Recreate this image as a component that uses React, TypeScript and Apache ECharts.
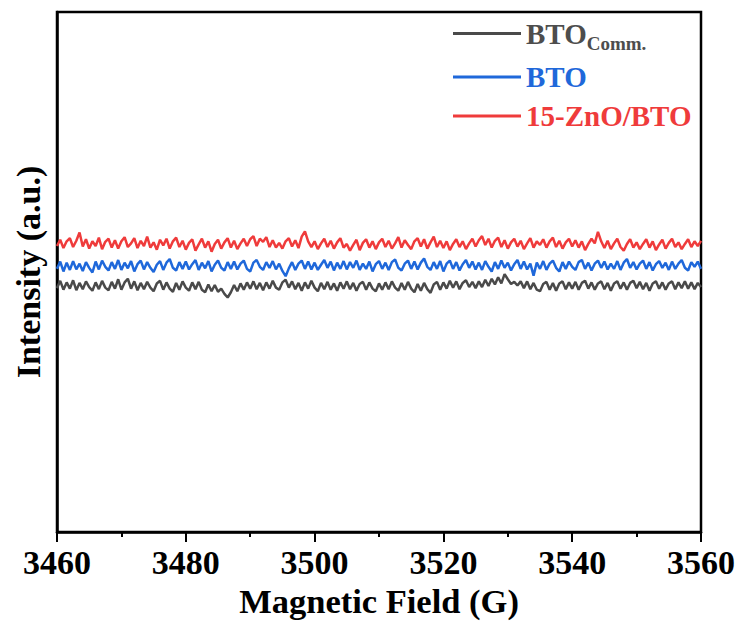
import React, { useEffect, useRef } from "react";
import * as echarts from "echarts";

const X_START = 3460;
const X_STEP = 0.5;
const X_TICKS = [3460, 3480, 3500, 3520, 3540, 3560];
const SERIES_NAMES = ["BTOComm.", "BTO", "15-ZnO/BTO"];
const COLORS = ["#4a4a4a", "#1f68da", "#ef3b3b"];

const btoComm = [
  46.9,48.3,46.6,48.0,46.8,48.4,46.5,47.9,46.7,48.2,
  47.1,46.4,48.0,46.7,48.3,47.0,46.5,48.1,46.8,48.6,
  46.6,48.0,48.7,46.8,48.2,46.5,47.9,46.7,48.1,47.0,
  46.3,47.8,48.3,46.6,48.0,46.8,46.2,47.9,46.6,48.2,
  47.0,46.4,48.0,46.7,48.1,46.6,46.1,47.6,46.3,47.5,
  46.2,46.8,45.8,45.1,46.1,47.5,46.3,47.8,46.6,48.0,
  46.8,48.2,46.7,47.9,46.5,48.0,46.8,48.3,47.0,46.6,
  48.0,48.5,47.0,48.2,46.7,47.9,46.4,48.0,46.8,48.3,
  47.0,46.3,47.9,46.7,48.1,46.6,47.8,46.4,48.0,46.8,
  48.2,46.7,47.9,46.4,47.7,48.1,46.6,48.0,46.8,46.3,
  47.8,46.6,48.0,46.7,48.2,47.0,46.4,47.9,46.6,48.1,
  46.8,46.1,47.7,46.4,47.9,46.7,46.0,47.6,48.1,46.6,
  48.0,46.8,48.3,47.0,48.2,46.7,47.9,48.4,47.1,48.1,
  46.9,48.2,47.1,48.5,47.3,48.7,47.6,49.0,47.8,49.6,
  48.6,47.7,48.1,47.4,48.2,46.9,48.2,46.7,47.9,46.6,
  46.3,47.7,48.1,46.6,47.9,46.4,47.8,48.2,46.7,48.0,
  46.8,48.1,46.6,47.9,48.3,46.8,48.0,46.6,47.8,48.2,
  46.7,47.9,46.4,47.8,48.2,46.8,48.0,46.6,47.9,48.3,
  46.9,48.1,46.7,47.9,46.4,47.8,48.2,46.8,48.0,46.6,
  47.8,48.2,46.7,48.0,46.9,48.2,46.8,48.0,46.7,47.9,47.1,
];

const bto = [
  50.6,52.0,50.1,51.8,50.4,52.1,50.5,51.6,50.2,51.9,
  50.8,49.9,52.0,50.5,52.2,51.0,50.3,51.9,50.6,52.3,
  50.4,51.8,50.7,52.1,50.1,51.5,52.2,50.5,51.9,50.8,
  50.0,51.4,52.1,50.4,51.8,52.5,50.8,50.3,51.9,50.6,
  52.0,50.5,51.5,52.3,50.4,51.8,50.7,52.1,50.1,51.4,
  52.2,50.8,50.3,51.9,50.6,52.0,50.5,51.6,52.2,50.6,
  50.1,51.8,52.3,51.0,50.4,51.9,50.8,52.1,50.5,51.6,
  50.2,49.2,50.7,51.9,50.4,51.6,52.2,50.6,52.0,50.5,
  51.8,50.4,51.4,52.3,50.8,52.0,50.3,51.8,50.6,52.1,
  50.5,51.9,50.8,52.2,50.4,51.6,50.6,52.0,50.1,51.5,
  52.1,50.6,51.8,50.4,51.9,52.4,50.8,50.3,51.6,52.2,
  50.6,52.0,50.5,51.8,52.6,51.0,50.4,51.9,50.6,52.1,
  50.1,51.6,52.2,50.6,51.9,50.3,51.5,52.3,50.8,52.0,
  50.5,51.8,50.4,52.1,51.0,50.1,51.9,50.6,52.2,50.8,
  51.8,50.3,51.5,52.3,50.6,52.0,50.5,51.6,49.3,51.8,
  50.6,52.1,50.4,51.6,52.2,50.8,50.1,51.9,50.6,52.0,
  51.0,50.4,51.9,52.3,50.6,51.8,50.3,51.6,52.2,50.8,
  52.0,50.5,51.6,50.6,52.1,50.4,51.8,52.5,50.8,51.9,
  50.5,51.6,52.2,50.6,51.9,50.3,51.5,52.1,50.8,51.8,
  50.4,52.0,50.6,51.6,52.3,50.8,50.3,51.9,51.0,52.0,50.6,
];

const znoBto = [
  55.0,56.2,54.6,55.9,56.5,54.8,56.0,57.6,54.9,56.3,
  54.5,55.9,55.0,56.6,54.4,55.8,56.4,54.7,56.1,54.5,
  55.9,56.7,54.8,55.5,56.5,54.6,56.0,55.0,56.8,54.7,
  55.7,54.3,56.2,55.1,56.4,54.5,55.9,56.6,54.8,56.0,
  54.3,55.6,56.3,54.1,55.3,56.4,54.7,55.9,53.9,55.4,
  56.2,54.5,55.7,56.5,54.7,56.0,54.4,55.5,56.4,55.0,
  56.3,56.9,55.0,56.4,55.8,56.7,54.8,56.1,54.7,55.6,
  54.5,55.9,56.5,54.9,56.1,54.6,56.8,57.8,55.9,54.8,
  55.9,54.4,55.5,56.4,54.8,56.0,54.5,55.7,56.5,54.7,
  55.4,54.1,55.2,56.2,54.2,55.6,56.3,54.7,55.9,54.4,
  55.7,56.4,54.8,56.0,54.5,55.5,56.7,54.7,56.1,55.2,
  54.4,55.9,56.5,54.9,56.3,54.5,55.7,56.8,54.8,56.0,
  54.6,55.9,54.2,55.4,56.3,54.8,55.9,54.4,55.5,56.4,
  54.9,56.1,56.9,55.2,56.4,54.7,56.0,56.6,54.8,56.1,
  54.5,55.7,56.4,54.9,56.0,54.4,55.5,56.5,54.7,55.9,
  55.2,56.3,54.7,55.9,56.6,54.8,56.0,54.5,55.7,56.4,
  54.9,56.1,54.7,55.9,54.2,55.4,56.4,55.5,57.7,55.9,
  54.6,56.0,54.4,55.5,56.4,54.8,54.1,55.4,56.3,54.7,
  55.7,54.4,55.4,56.3,54.7,55.9,54.2,55.3,56.2,54.5,
  55.6,56.4,54.8,55.7,54.4,55.4,56.3,54.8,55.9,55.0,56.0,
];

const FONT = "'Times New Roman', 'Liberation Serif', serif";

function toPairs(values: number[]) {
  return values.map((v, i) => [X_START + i * X_STEP, v]);
}

export default function App() {
  const ref = useRef<HTMLDivElement>(null);
  useEffect(() => {
    if (!ref.current) return;
    const chart = echarts.init(ref.current, null, { renderer: "svg" });
    const datasets = [btoComm, bto, znoBto];
    chart.setOption({
      animation: false,
      backgroundColor: "#ffffff",
      grid: {
        left: 57,
        right: 40,
        top: 12,
        bottom: 89,
        show: true,
        borderColor: "#000",
        borderWidth: 2.5,
        containLabel: false,
        outerBoundsMode: "none",
      },
      legend: {
        orient: "vertical",
        left: 453,
        top: 19,
        padding: 0,
        itemGap: 10,
        itemWidth: 68,
        itemHeight: 3,
        icon: "rect",
        data: SERIES_NAMES,
        formatter: (name: string) => {
          if (name === "BTOComm.") return "{g|BTO}{gs|Comm.}";
          if (name === "BTO") return "{b|BTO}";
          return "{r|15-ZnO/BTO}";
        },
        textStyle: {
          fontFamily: FONT,
          fontWeight: "bold",
          rich: {
            g: { color: "#4d4d4d", fontSize: 29, fontWeight: "bold", fontFamily: FONT, lineHeight: 38 },
            gs: { color: "#4d4d4d", fontSize: 19, fontWeight: "bold", fontFamily: FONT, lineHeight: 14, verticalAlign: "bottom" },
            b: { color: COLORS[1], fontSize: 29, fontWeight: "bold", fontFamily: FONT, lineHeight: 38 },
            r: { color: COLORS[2], fontSize: 29, fontWeight: "bold", fontFamily: FONT, lineHeight: 38 },
          },
        },
      },
      xAxis: {
        type: "value",
        min: 3460,
        max: 3560,
        interval: 20,
        name: "Magnetic Field (G)",
        nameLocation: "middle",
        nameGap: 45,
        nameTextStyle: { fontFamily: FONT, fontWeight: "bold", fontSize: 34.5, color: "#000" },
        axisLine: { show: true, lineStyle: { color: "#000", width: 2.5 } },
        axisTick: { show: true, length: 10, lineStyle: { color: "#000", width: 2 } },
        minorTick: { show: true, splitNumber: 2, length: 5, lineStyle: { color: "#000", width: 2 } },
        splitLine: { show: false },
        minorSplitLine: { show: false },
        axisLabel: {
          fontFamily: FONT,
          fontWeight: "bold",
          fontSize: 34,
          color: "#000",
          margin: 13,
          formatter: (v: number) => (X_TICKS.includes(v) ? String(v) : ""),
        },
      },
      yAxis: {
        type: "value",
        min: 0,
        max: 100,
        name: "Intensity (a.u.)",
        nameLocation: "middle",
        nameGap: 12,
        nameRotate: 90,
        nameTextStyle: { fontFamily: FONT, fontWeight: "bold", fontSize: 34, color: "#000" },
        axisLine: { show: true, lineStyle: { color: "#000", width: 2.5 } },
        axisTick: { show: false },
        axisLabel: { show: false },
        splitLine: { show: false },
      },
      series: SERIES_NAMES.map((name, i) => ({
        name,
        type: "line",
        data: toPairs(datasets[i]),
        symbol: "none",
        color: COLORS[i],
        lineStyle: { color: COLORS[i], width: 2.5 },
      })),
    });
    return () => chart.dispose();
  }, []);
  return (
    <div
      ref={ref}
      style={{ position: "fixed", left: 0, top: 0, width: 741, height: 621 }}
    />
  );
}
